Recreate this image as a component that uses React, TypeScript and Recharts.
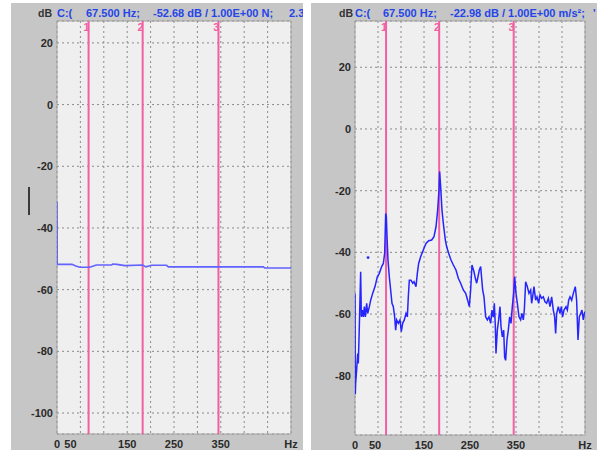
import React from 'react';
import { LineChart, Line, XAxis, YAxis, CartesianGrid, ReferenceLine, ReferenceArea, ReferenceDot } from 'recharts';

const xTicks = [0, 50, 100, 150, 200, 250, 300, 350, 400, 450, 500];
const xTickLabels: Record<number, string> = { 0: '0', 50: '50', 150: '150', 250: '250', 350: '350', 500: 'Hz' };
const leftYTicks = [20, 0, -20, -40, -60, -80, -100];
const rightYTicks = [20, 0, -20, -40, -60, -80];
const leftDomain = [-106.8, 27.1];
const rightDomain = [-99.2, 35];
const markerIds = ['1', '2', '3'];
const markerHz = [67.5, 183, 345];

const leftHeader = ['C:(', '67.500 Hz;', '-52.68 dB / 1.00E+00 N;', '2.3'];
const rightHeader = ['C:(', '67.500 Hz;', '-22.98 dB / 1.00E+00 m/s²;', '\''];

const leftHz = [0, 0.5, 32, 40, 49, 70, 84, 117, 119, 128, 145, 183, 190, 202, 234, 238, 441, 444, 500];
const leftDb = [-31.5, -51.8, -51.8, -52.3, -52.75, -52.75, -52.0, -52.0, -51.7, -51.8, -52.2, -52.0, -52.6, -52.1, -52.1, -52.6, -52.6, -53.0, -53.0];

const rightHz = [0, 0.7, 1.4, 3.6, 5.8, 7.2, 9.4, 12.3, 13.8, 15.9,
  18.1, 20.3, 22.5, 25.4, 27.5, 31.2, 34.1, 38.4, 43.5, 48.5,
  52.9, 58, 61.6, 64.5, 66.7, 68.1, 69.6, 71.7, 74.6, 77.5,
  80.4, 83.3, 86.2, 88.4, 90.6, 94.2, 97.8, 100.7, 103.6, 107.2,
  110.9, 113.8, 115.9, 118.1, 121.7, 125.4, 128.3, 132.6, 135.5, 138.4,
  142.7, 148.5, 154.3, 160.1, 166.7, 171.7, 176.1, 179.7, 182.6, 184,
  186.2, 189.1, 192, 196.4, 199.3, 203.6, 208.7, 213.8, 219.5, 224.6,
  229.7, 235.5, 240.6, 244.9, 248.5, 251.4, 254.3, 258.7, 261.6, 264.5,
  267.4, 270.3, 273.2, 277.5, 280.4, 284, 287.7, 291.3, 294.9, 297.8,
  300.7, 302.9, 305.1, 306.5, 309.4, 312.3, 315.2, 317.4, 320.3, 323.2,
  325.3, 327.5, 330.4, 333.3, 336.2, 339.1, 342, 344.9, 347.1, 350,
  352.9, 356.5, 360.1, 363, 365.9, 368.1, 371, 374.6, 378.2, 381.9,
  384, 386.2, 389.1, 392.7, 395.6, 399.3, 402.2, 405.8, 409.4, 413,
  416.6, 420.3, 423.9, 427.5, 431.1, 434, 436.2, 438.4, 442, 445.6,
  448.5, 451.4, 454.3, 458.7, 461.6, 464.5, 467.4, 471, 474.6, 478.9,
  481.8, 484.8, 487.6, 490.6, 493.4, 496.3, 498.5, 500];
const rightDb = [-53.3, -86, -82.5, -78, -72.8, -76, -64, -46.3, -60.9, -58.7,
  -60.9, -57.6, -60.9, -56.5, -59.8, -57.6, -55.5, -53.3, -51.1, -47.9,
  -46.8, -44.6, -43.6, -40.3, -27.4, -28.4, -34.9, -42.5, -47.9, -52.2,
  -56.5, -57.6, -60.9, -65.2, -61.9, -63, -61.9, -65.7, -63, -61.9,
  -59.8, -60.9, -54.4, -49, -49, -50, -49.5, -51.1, -46.8, -43.6,
  -41.4, -39.2, -37.1, -36.2, -36, -34.9, -31.7, -26.3, -19.8, -13.8,
  -18.7, -26.3, -30.6, -36, -38.2, -40.3, -42.5, -44.1, -45.7, -48.4,
  -50, -52.2, -53.3, -55.5, -57.6, -52.2, -44.1, -46.3, -48.4, -50,
  -47.9, -45.7, -44.6, -52.2, -54.4, -60.9, -61.9, -60.9, -63, -58.7,
  -60.9, -56.5, -64, -72.8, -65.2, -61.9, -57.6, -64, -67.4, -65.2,
  -74, -75, -68.4, -65.2, -60.9, -63, -57.6, -53.3, -47.9, -53.3,
  -56.5, -60.9, -61.9, -59.8, -61.9, -58.7, -49.5, -51.1, -53.3, -52.2,
  -56.5, -54.4, -51.1, -55.5, -54.4, -56.5, -53.8, -54.9, -54.4, -56,
  -56.5, -54.9, -57.6, -54.4, -58.7, -60.9, -66.3, -59.8, -57.6, -59.8,
  -57.6, -60.9, -58.7, -57.6, -58.7, -55.5, -54.4, -55.5, -53.3, -51.1,
  -55.5, -68.4, -60.9, -59.8, -58.7, -61.9, -59.8, -59.3];

const rightDotHz = [28.4];
const rightDotDb = [-41.7];

const leftData = leftHz.map((hz, i) => ({ hz, db: leftDb[i] }));
const rightData = rightHz.map((hz, i) => ({ hz, db: rightDb[i] }));

const FONT = '"Liberation Sans", Arial, sans-serif';
const PINK = '#f25fa3';
const GRID = '#8a8a8a';
const PANEL = '#c6c6c6';
const PLOT = '#efefef';
const HEAD_BLUE = '#2445e8';

const XTick = (props: any) => {
  const { x, y, payload, dx50 } = props;
  const label = xTickLabels[payload.value];
  if (!label) return null;
  const shift = payload.value === 50 ? dx50 : 0;
  return (
    <text x={x + shift} y={y} dy="0.71em" textAnchor="middle" fontFamily={FONT} fontWeight="bold" fontSize={11} fill="#2a2a2a">
      {label}
    </text>
  );
};

const YTick = (props: any) => {
  const { x, y, payload } = props;
  return (
    <text x={x} y={y} dy="0.36em" textAnchor="end" fontFamily={FONT} fontWeight="bold" fontSize={11} fill="#2a2a2a">
      {payload.value}
    </text>
  );
};

const MarkerLabel = (props: any) => {
  const { viewBox, value } = props;
  if (!viewBox) return null;
  return (
    <text x={viewBox.x + 1} y={viewBox.y + 10} textAnchor="end" fontFamily={FONT} fontWeight="bold" fontSize={11} fill={PINK}>
      {value}
    </text>
  );
};

type PanelProps = {
  left: number;
  width: number;
  yAxisWidth: number;
  xAxisHeight: number;
  data: { hz: number; db: number }[];
  domain: number[];
  yTicks: number[];
  lineColor: string;
  lineWidth: number;
  dx50: number;
  header: string[];
  headerX: number[];
  dBX: number;
  showDot?: boolean;
};

const Panel = (p: PanelProps) => (
  <div style={{ position: 'absolute', left: p.left, top: 3, width: p.width, height: 447, background: PANEL, overflow: 'hidden' }}>
    <div style={{ position: 'absolute', left: p.dBX, top: 4, fontFamily: FONT, fontWeight: 'bold', fontSize: 10.5, color: '#333', lineHeight: '12px', whiteSpace: 'nowrap' }}>dB</div>
    {p.header.map((t, i) => (
      <div key={i} style={{ position: 'absolute', left: p.headerX[i], top: 4, fontFamily: FONT, fontWeight: 'bold', fontSize: 11, color: HEAD_BLUE, lineHeight: '12px', whiteSpace: 'nowrap' }}>{t}</div>
    ))}
    <LineChart width={p.width} height={447} data={p.data} margin={{ top: 18, right: 12, bottom: 0, left: 0 }} style={{ position: 'absolute', left: 0, top: 0 }}>
      <CartesianGrid stroke={GRID} strokeDasharray="2 3" fill={PLOT} fillOpacity={1} />
      <XAxis dataKey="hz" type="number" domain={[0, 500]} ticks={xTicks} interval={0} axisLine={false} tickLine={false} tickSize={0} tickMargin={6} height={p.xAxisHeight} tick={<XTick dx50={p.dx50} />} allowDataOverflow />
      <YAxis type="number" domain={p.domain} ticks={p.yTicks} interval={0} axisLine={false} tickLine={false} tickSize={0} tickMargin={4} width={p.yAxisWidth} tick={<YTick />} allowDataOverflow />
      <ReferenceArea x1={0} x2={500} y1={p.domain[0]} y2={p.domain[1]} fill="none" fillOpacity={0} stroke="#a4a4a4" strokeWidth={1} ifOverflow="visible" />
      {markerHz.map((hz, i) => (
        <ReferenceLine key={i} x={hz} stroke={PINK} strokeWidth={2} label={<MarkerLabel value={markerIds[i]} />} />
      ))}
      <Line type="linear" dataKey="db" stroke={p.lineColor} strokeWidth={p.lineWidth} dot={false} isAnimationActive={false} />
      {p.showDot && (
        <ReferenceDot x={rightDotHz[0]} y={rightDotDb[0]} r={1.4} fill={p.lineColor} stroke="none" />
      )}
    </LineChart>
  </div>
);

export default function App() {
  return (
    <div style={{ position: 'absolute', left: 0, top: 0, width: 597, height: 450, background: '#ffffff', overflow: 'hidden' }}>
      <Panel left={11} width={292} yAxisWidth={46} xAxisHeight={16} data={leftData} domain={leftDomain} yTicks={leftYTicks}
        lineColor="#6262ff" lineWidth={1.6} dx50={-10} header={leftHeader} headerX={[46, 75, 142, 278]} dBX={27} />
      <Panel left={311} width={286} yAxisWidth={44} xAxisHeight={15} data={rightData} domain={rightDomain} yTicks={rightYTicks}
        lineColor="#2525ff" lineWidth={1.5} dx50={-3} header={rightHeader} headerX={[44, 72, 139, 282]} dBX={28} showDot />
      <div style={{ position: 'absolute', left: 28, top: 187, width: 1.5, height: 28, background: '#3a3a3a' }} />
    </div>
  );
}
